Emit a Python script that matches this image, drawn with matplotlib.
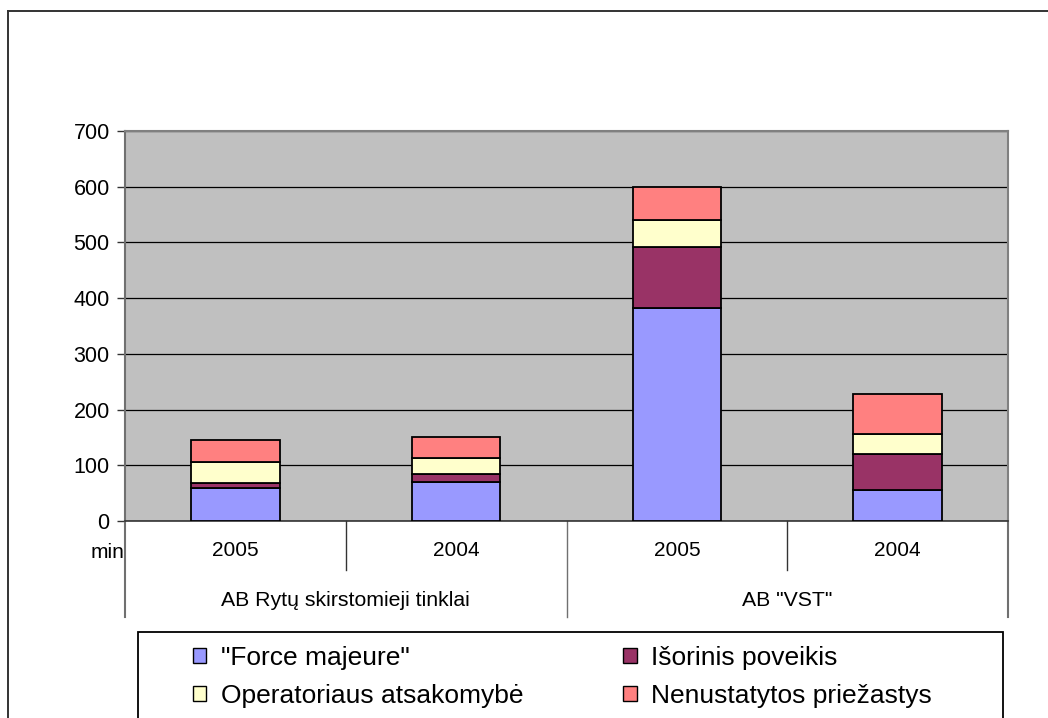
import numpy as np
import matplotlib
matplotlib.use('Agg')
import matplotlib.pyplot as plt
import matplotlib.transforms as mtransforms
from matplotlib.patches import Rectangle, Patch
from matplotlib.lines import Line2D

plt.rcParams['font.family'] = ['Liberation Sans', 'DejaVu Sans']

# ---- data ----
years = ['2005', '2004', '2005', '2004']
groups = ['AB Rytų skirstomieji tinklai', 'AB "VST"']
series_names = ['"Force majeure"', 'Išorinis poveikis',
                'Operatoriaus atsakomybė', 'Nenustatytos priežastys']
force_majeure = [59, 70, 383, 55]
isorinis = [10, 14, 108, 65]
operatoriaus = [36, 29, 50, 36]
nenustatytos = [40, 37, 58, 72]
yticks = [0, 100, 200, 300, 400, 500, 600, 700]
unit_label = 'min'

colors = ['#9999FF', '#993366', '#FFFFCC', '#FF8080']
series = [force_majeure, isorinis, operatoriaus, nenustatytos]

W, H = 1048, 718
fig = plt.figure(figsize=(W / 100, H / 100), dpi=100)
fig.patch.set_facecolor('white')

# outer frame (left and top visible; rest beyond image)
fig.add_artist(Line2D([8 / W, 8 / W], [1 - 11 / H, -0.05], transform=fig.transFigure,
                      color='#333333', lw=1.4, clip_on=False))
fig.add_artist(Line2D([8 / W, 1.05], [1 - 11 / H, 1 - 11 / H], transform=fig.transFigure,
                      color='#333333', lw=1.4, clip_on=False))

ax = fig.add_axes([125 / W, (H - 521) / H, 883 / W, 390 / H])
ax.set_facecolor('#C0C0C0')

x = np.arange(len(years))
bottom = np.zeros(len(years))
for vals, c in zip(series, colors):
    ax.bar(x, vals, width=0.4, bottom=bottom, color=c, edgecolor='black',
           linewidth=1.3, zorder=3)
    bottom += np.array(vals)

ax.set_xlim(-0.5, len(years) - 0.5)
ax.set_ylim(0, 700)
ax.set_yticks(yticks)
ax.set_yticklabels([str(v) for v in yticks])
ax.yaxis.grid(True, color='black', linewidth=0.9, zorder=1)
ax.set_axisbelow(True)
ax.tick_params(axis='y', length=6, width=1, pad=5, labelsize=15.5, direction='out',
               color='#333333')
ax.set_xticks([])

ax.spines['left'].set_color('#707070')
ax.spines['left'].set_linewidth(1.5)
ax.spines['top'].set_color('#808080')
ax.spines['top'].set_linewidth(1.5)
ax.spines['right'].set_color('#808080')
ax.spines['right'].set_linewidth(1.5)
ax.spines['bottom'].set_color('#333333')
ax.spines['bottom'].set_linewidth(1.2)

trans = mtransforms.blended_transform_factory(ax.transData, ax.transAxes)
# category separators
for xs in [0.5, 2.5]:
    ax.plot([xs, xs], [0, -(570 - 521) / 390], transform=trans, color='#333333',
            lw=1.0, clip_on=False)
for xs in [-0.5, 1.5, 3.5]:
    ax.plot([xs, xs], [0, -(617 - 521) / 390], transform=trans, color='#707070',
            lw=1.5 if xs in (-0.5, 3.5) else 1.0, clip_on=False)

for xi, yr in zip(x, years):
    ax.text(xi, -(551 - 521) / 390, yr, transform=trans, ha='center', va='center',
            fontsize=15)
for gi, g in enumerate(groups):
    ax.text(2 * gi + 0.5, -(601 - 521) / 390, g, transform=trans, ha='center',
            va='center', fontsize=15.3)

fig.text(124 / W, 1 - 553 / H, unit_label, ha='right', va='center', fontsize=15)

# legend frame
fig.add_artist(Rectangle((138 / W, -0.05), (1003 - 138) / W, 1 - 632 / H + 0.05,
                         transform=fig.transFigure, fill=False, edgecolor='black',
                         lw=1.3, clip_on=False))

handles = [Patch(facecolor=c, edgecolor='black', lw=1.0) for c in colors]
order = [0, 2, 1, 3]
leg = fig.legend([handles[i] for i in order], [series_names[i] for i in order],
                 ncol=2, frameon=False, loc='upper left',
                 bbox_to_anchor=(193 / W, 1 - 646 / H), fontsize=19,
                 handlelength=0.5, handleheight=0.5, handletextpad=0.55,
                 columnspacing=3.8, labelspacing=0.52, borderpad=0,
                 borderaxespad=0)

fig.savefig('out.png', dpi=100)
